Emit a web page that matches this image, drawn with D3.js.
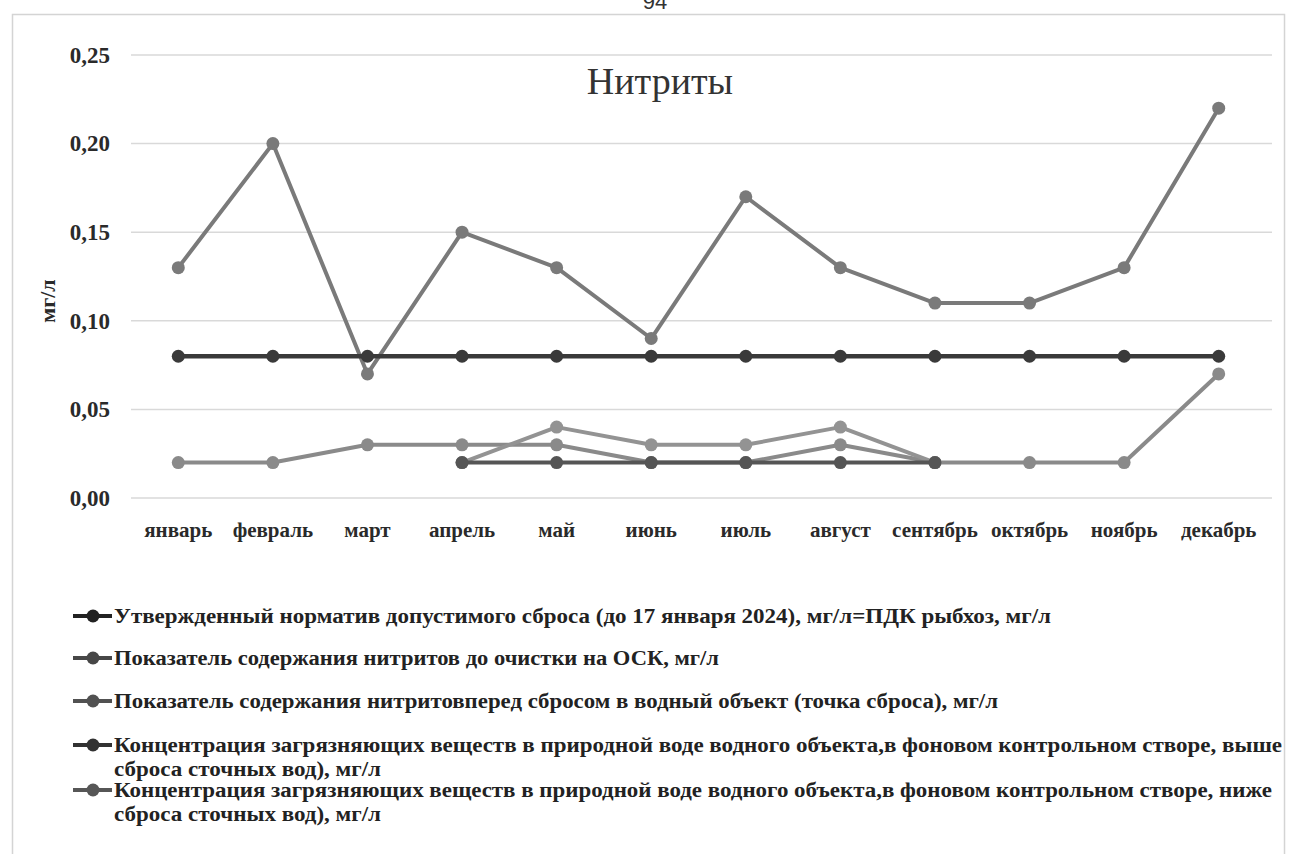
<!DOCTYPE html>
<html><head><meta charset="utf-8">
<script src="https://cdn.jsdelivr.net/npm/d3@7"></script>
<style>
html,body{margin:0;padding:0;background:#fff;}
svg{display:block;}
</style></head>
<body>
<svg id="chart" width="1294" height="854"></svg>
<script>
const months = ["январь","февраль","март","апрель","май","июнь","июль","август","сентябрь","октябрь","ноябрь","декабрь"];
const yTicks = [0, 0.05, 0.10, 0.15, 0.20, 0.25];
const seriesNames = [
  "Утвержденный норматив допустимого сброса (до 17 января 2024), мг/л=ПДК рыбхоз, мг/л",
  "Показатель содержания нитритов до очистки на ОСК, мг/л",
  "Показатель содержания нитритовперед сбросом в водный объект (точка сброса), мг/л",
  "Концентрация загрязняющих веществ в природной воде водного объекта,в фоновом контрольном створе, выше|сброса сточных вод), мг/л",
  "Концентрация загрязняющих веществ в природной воде водного объекта,в фоновом контрольном створе, ниже|сброса сточных вод), мг/л"
];
const normValues   = [0.08,0.08,0.08,0.08,0.08,0.08,0.08,0.08,0.08,0.08,0.08,0.08];
const beforeValues = [0.13,0.20,0.07,0.15,0.13,0.09,0.17,0.13,0.11,0.11,0.13,0.22];
const outletValues = [0.02,0.02,0.03,0.03,0.03,0.02,0.02,0.03,0.02,0.02,0.02,0.07];
const aboveValues  = [null,null,null,0.02,0.02,0.02,0.02,0.02,0.02,null,null,null];
const belowValues  = [null,null,null,0.02,0.04,0.03,0.03,0.04,0.02,null,null,null];
const seriesColors = ["#3a3a3a","#7a7a7a","#8a8a8a","#555555","#939393"];

const series = [normValues, beforeValues, outletValues, aboveValues, belowValues];
const drawOrder = [2,4,3,1,0];

const svg = d3.select("#chart");
const serif = "'Liberation Serif','DejaVu Serif',serif";

// page number (partly above the page edge, as in the scan)
svg.append("text").attr("x",655).attr("y",9).attr("text-anchor","middle")
  .attr("font-family","'Liberation Sans',sans-serif").attr("font-size",22).attr("fill","#333").text("94");

// chart frame
svg.append("rect").attr("x",12.5).attr("y",14.5).attr("width",1272).attr("height",860)
  .attr("fill","none").attr("stroke","#d4d4d4").attr("stroke-width",1.5);

const x = d3.scaleBand().domain(months).range([131,1266]);
const y = d3.scaleLinear().domain([0,0.25]).range([498,55]);

// gridlines
svg.append("g").selectAll("line").data(yTicks).join("line")
  .attr("x1",131).attr("x2",1272)
  .attr("y1",d=>y(d)).attr("y2",d=>y(d))
  .attr("stroke","#d9d9d9").attr("stroke-width",1.5);

// y axis labels
const yAxis = d3.axisLeft(y).tickValues(yTicks).tickSize(0).tickPadding(0)
  .tickFormat(d=>d3.format(".2f")(d).replace(".",","));
const gy = svg.append("g").attr("transform","translate(110,0)").call(yAxis);
gy.select(".domain").remove();
gy.selectAll("text").attr("font-family",serif).attr("font-size",23).attr("font-weight","bold").attr("fill","#2a2a2a");

// x axis labels
const xAxis = d3.axisBottom(x).tickSize(0).tickPadding(0);
const gx = svg.append("g").attr("transform","translate(0,522)").call(xAxis);
gx.select(".domain").remove();
gx.selectAll("text").attr("font-family",serif).attr("font-size",21).attr("font-weight","bold").attr("fill","#2a2a2a");

// y title
svg.append("text").attr("transform","translate(55,301) rotate(-90)").attr("text-anchor","middle")
  .attr("font-family",serif).attr("font-size",22).attr("font-weight","bold").attr("fill","#2a2a2a").text("мг/л");

// title
svg.append("text").attr("x",660).attr("y",94).attr("text-anchor","middle")
  .attr("font-family",serif).attr("font-size",38).attr("fill","#333").text("Нитриты");

const cx = m => x(m) + x.bandwidth()/2;
const line = d3.line().defined(d=>d.v!=null).x(d=>cx(d.m)).y(d=>y(d.v));

drawOrder.forEach(i=>{
  const pts = months.map((m,j)=>({m, v: series[i][j]}));
  const g = svg.append("g");
  g.append("path").datum(pts).attr("d",line).attr("fill","none")
    .attr("stroke",seriesColors[i]).attr("stroke-width", i===0?4.5:4).attr("stroke-linejoin","round");
  g.selectAll("circle").data(pts.filter(d=>d.v!=null)).join("circle")
    .attr("cx",d=>cx(d.m)).attr("cy",d=>y(d.v)).attr("r",6.5).attr("fill",seriesColors[i]);
});

// legend
const legendRows = [616, 658, 701, 745, 790];
const legendWidths = [[937],[605],[884],[1168,267],[1158,267]];
seriesNames.forEach((name,i)=>{
  const ly = legendRows[i];
  const g = svg.append("g");
  const kc = d3.color(seriesColors[i]).darker(1.5);
  g.append("line").attr("x1",73).attr("x2",112).attr("y1",ly).attr("y2",ly).attr("stroke",kc).attr("stroke-width",4);
  g.append("circle").attr("cx",93).attr("cy",ly).attr("r",6.5).attr("fill",kc);
  const parts = name.split("|");
  parts.forEach((p,k)=>{
    g.append("text").attr("x",114).attr("y",ly+7+k*24)
      .attr("font-family",serif).attr("font-size",20).attr("font-weight","bold").attr("fill","#222")
      .attr("textLength",legendWidths[i][k]).attr("lengthAdjust","spacingAndGlyphs").text(p);
  });
});
</script>
</body></html>
